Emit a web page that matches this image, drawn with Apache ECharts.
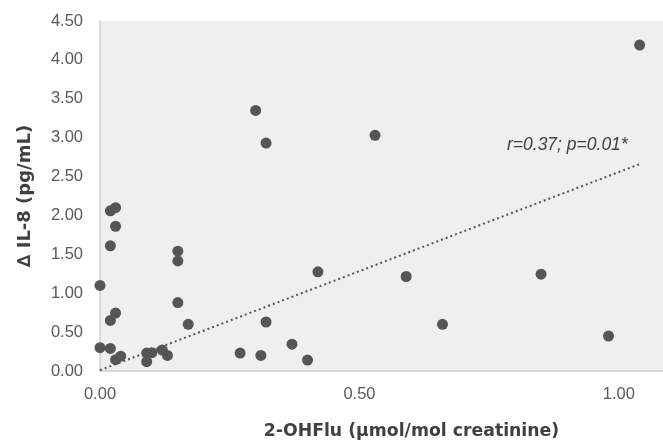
<!DOCTYPE html>
<html>
<head>
<meta charset="utf-8">
<script src="https://cdn.jsdelivr.net/npm/echarts@6/dist/echarts.min.js"></script>
<style>html,body{margin:0;padding:0;background:#fff}#c{width:663px;height:445px}</style>
</head>
<body>
<div id="c"></div>
<script>
// 2-OHFlu (µmol/mol creatinine)
var xValues = [0.00, 0.00, 0.02, 0.02, 0.03, 0.03, 0.02, 0.02, 0.03, 0.03, 0.04,
  0.09, 0.09, 0.10, 0.12, 0.13, 0.15, 0.15, 0.15, 0.17,
  0.27, 0.31, 0.32, 0.37, 0.40, 0.42, 0.30, 0.32,
  1.04, 0.53, 0.59, 0.66, 0.85, 0.98];
// Δ IL-8 (pg/mL)
var yValues = [1.10, 0.30, 0.29, 2.06, 2.10, 1.86, 1.61, 0.65, 0.745, 0.145, 0.19,
  0.12, 0.23, 0.235, 0.27, 0.20, 1.54, 1.415, 0.88, 0.60,
  0.23, 0.20, 0.63, 0.345, 0.14, 1.275, 3.35, 2.93,
  4.19, 3.03, 1.215, 0.60, 1.245, 0.45];
var trendX = [0.00, 1.04];
var trendY = [0.01, 2.66];
var yTicks = [0, 4.5, 0.5];  // min, max, interval
var xTicks = [0, 1.085, 0.5];
var annotation = 'r=0.37; p=0.01*';

var points = xValues.map(function (x, i) { return [x, yValues[i]]; });
var trend = trendX.map(function (x, i) { return [x, trendY[i]]; });

var chart = echarts.init(document.getElementById('c'));
chart.setOption({
  animation: false,
  grid: { left: 100, top: 21, right: 0, bottom: 72, show: true, backgroundColor: '#efefef', borderWidth: 0 },
  xAxis: {
    type: 'value', min: xTicks[0], max: xTicks[1], interval: xTicks[2],
    name: '2-OHFlu (µmol/mol creatinine)', nameLocation: 'middle', nameGap: 52,
    nameTextStyle: { fontFamily: 'DejaVu Sans', fontWeight: 'bold', fontSize: 17.3, color: '#404040', padding: [0, 0, 0, 60] },
    axisLine: { show: true, lineStyle: { color: '#d0d0d0', width: 1.5 } },
    axisTick: { show: false }, splitLine: { show: false },
    axisLabel: { color: '#595959', fontFamily: 'Liberation Sans', fontSize: 16.5, margin: 15, showMaxLabel: false,
      formatter: function (v) { return v.toFixed(2); } }
  },
  yAxis: {
    type: 'value', min: yTicks[0], max: yTicks[1], interval: yTicks[2],
    name: '\u2206 IL-8 (pg/mL)', nameLocation: 'middle', nameGap: 66, nameRotate: 90,
    nameTextStyle: { fontFamily: 'DejaVu Sans', fontWeight: 'bold', fontSize: 18, color: '#404040' },
    axisLine: { show: true, lineStyle: { color: '#d0d0d0', width: 1.5 } },
    axisTick: { show: false }, splitLine: { show: false },
    axisLabel: { color: '#595959', fontFamily: 'Liberation Sans', fontSize: 16.5, margin: 17,
      formatter: function (v) { return v.toFixed(2); } }
  },
  graphic: [{
    type: 'text', left: 507, top: 136,
    style: { text: annotation, fontFamily: 'Liberation Sans', fontStyle: 'italic', fontSize: 17.5, fill: '#404040' }
  }],
  series: [
    {
      type: 'line', data: trend, symbol: 'none', silent: true, z: 1,
      lineStyle: { color: '#555555', width: 2, type: [2, 3] }
    },
    {
      type: 'scatter', data: points, symbolSize: 11, z: 2,
      itemStyle: { color: '#555555', opacity: 1 }
    }
  ]
});
</script>
</body>
</html>
